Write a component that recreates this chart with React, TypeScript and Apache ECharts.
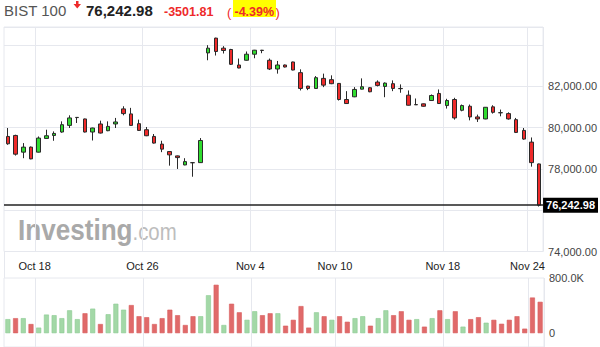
import React, { useEffect, useRef } from 'react';
import * as echarts from 'echarts';

const opens = [
  79576, 79624, 78815, 79059, 78815, 79478, 79624, 79790, 80112, 80500,
  80424, 79790, 80180, 79854, 80180, 80912, 80668, 80195, 79902, 79576,
  79205, 78844, 78634, 78195, 78307, 78307, 83624, 84341, 83854, 83790,
  83039, 83268, 83561, 83756, 83268, 82844, 83039, 83185, 82668, 82015,
  81902, 82390, 82327, 82146, 81366, 81498, 81868, 81937, 82210, 82000,
  82132, 81902, 81576, 81120, 81156, 81317, 81659, 81073, 81366, 80844,
  81039, 80522, 80424, 81010, 80730, 80683, 80390, 79868, 79302, 78244,
];
const closes = [
  79220, 78717, 79059, 78488, 79498, 79610, 79722, 80146, 80473, 80490,
  79790, 79985, 79741, 80063, 80278, 80683, 80112, 79868, 79610, 79254,
  78961, 78683, 78551, 78356, 78300, 79380, 83854, 83693, 83741, 83073,
  82893, 83561, 83756, 83740, 82844, 83039, 82941, 82795, 81902, 81902,
  82424, 82063, 82132, 81366, 81171, 81854, 81985, 81741, 82049, 82161,
  81902, 81890, 81088, 81110, 81039, 81561, 81171, 81317, 80473, 81073,
  80522, 80424, 80990, 80746, 80720, 80424, 79771, 79449, 78307, 76242.98,
];
const lows = [
  79171, 78649, 78522, 78470, 78800, 79463, 79366, 79756, 79985, 80229,
  79770, 79380, 79720, 79830, 79985, 80600, 80100, 79840, 79590, 79230,
  78815, 78161, 78000, 78180, 77624, 78290, 83268, 83498, 83595, 83039,
  82880, 83250, 83366, 83610, 82795, 82620, 82920, 82780, 81805, 81820,
  81890, 81966, 82110, 81317, 81150, 81480, 81855, 81720, 82000, 81478,
  81771, 81693, 81073, 81100, 81020, 81300, 81150, 80927, 80390, 80795,
  80356, 80278, 80410, 80683, 80551, 80390, 79741, 79415, 78112, 76180,
];
const highs = [
  79985, 79660, 79254, 79088, 79576, 79902, 79820, 80307, 80600, 80510,
  80440, 80000, 80341, 80307, 80473, 81039, 80961, 80390, 80034, 79693,
  79366, 78860, 78650, 78522, 78330, 79498, 84000, 84360, 83951, 83820,
  83351, 83693, 83770, 83770, 83351, 83234, 83060, 83200, 82829, 82030,
  82502, 82620, 82537, 82160, 81771, 81966, 82390, 81960, 82293, 82195,
  82293, 82098, 81805, 81415, 81170, 81610, 81854, 81400, 81449, 81122,
  81122, 80634, 81000, 81088, 80878, 80746, 80473, 79985, 79527, 78260,
];
const volumes = [
  204000, 218000, 218000, 133000, 81000, 270000, 261000, 218000, 332000, 204000,
  289000, 356000, 133000, 275000, 427000, 341000, 408000, 246000, 232000, 133000,
  218000, 341000, 261000, 119000, 246000, 246000, 550000, 702000, 119000, 427000,
  303000, 194000, 318000, 261000, 289000, 289000, 109000, 194000, 393000, 81000,
  303000, 246000, 194000, 246000, 166000, 218000, 246000, 109000, 218000, 332000,
  261000, 318000, 194000, 204000, 95000, 218000, 332000, 204000, 318000, 95000,
  204000, 232000, 152000, 194000, 137000, 194000, 246000, 66000, 517000, 455000,
];
const volumeUp = [
  1, 0, 1, 0, 1, 1, 1, 1, 1, 1,
  0, 1, 0, 1, 1, 1, 0, 0, 0, 0,
  0, 0, 0, 0, 0, 1, 1, 0, 1, 0,
  0, 1, 1, 0, 0, 1, 0, 0, 0, 0,
  1, 0, 1, 0, 0, 1, 1, 0, 1, 1,
  0, 0, 0, 1, 0, 1, 0, 1, 0, 1,
  0, 0, 1, 0, 0, 0, 0, 0, 0, 0,
];
const tickIndex = [4, 18, 32, 43, 57, 68];
const tickLabels = ['Oct 18', 'Oct 26', 'Nov 4', 'Nov 10', 'Nov 18', 'Nov 24'];
const priceTickLabels = [82000, 80000, 78000, 74000];
const lastPrice = 76242.98;
const headerName = 'BIST 100';
const headerPrice = '76,242.98';
const headerChange = '-3501.81';
const headerPct = '-4.39%';

const FONT = 'Arial, "Liberation Sans", sans-serif';
const GRID_COLOR = '#e6e8ee';
const RED = '#ee2a2a';

function fmtPrice(v: number) {
  return v.toLocaleString('en-US', { minimumFractionDigits: 2, maximumFractionDigits: 2 });
}

export default function App() {
  const ref = useRef<HTMLDivElement>(null);
  useEffect(() => {
    if (!ref.current) return;
    const chart = echarts.init(ref.current, undefined, { renderer: 'svg' });
    const categories = opens.map((_, i) => String(i));
    const candles = opens.map((o, i) => [o, closes[i], lows[i], highs[i]]);
    const labelAt = (idx: number) => tickIndex.indexOf(idx);
    const showTick = (idx: number) => tickIndex.indexOf(idx) >= 0;

    chart.setOption({
      animation: false,
      backgroundColor: '#fff',
      textStyle: { fontFamily: FONT },
      grid: [
        { left: 4, right: 56, top: 27, height: 224.5, show: true, borderColor: GRID_COLOR, borderWidth: 1 },
        { left: 4, right: 56, top: 278, height: 69, show: true, borderColor: GRID_COLOR, borderWidth: 1 },
      ],
      xAxis: [
        {
          type: 'category', gridIndex: 0, data: categories, boundaryGap: true,
          axisLine: { show: false }, axisTick: { show: false },
          axisLabel: {
            interval: (idx: number) => showTick(idx),
            formatter: (_v: string, idx: number) => { const k = labelAt(idx); return k >= 0 ? tickLabels[k] : ''; },
            color: '#222', fontSize: 11, fontFamily: FONT, margin: 9, padding: [0, 8, 0, 0],
          },
          splitLine: { show: true, interval: (idx: number) => showTick(idx), lineStyle: { color: GRID_COLOR, width: 1 } },
        },
        {
          type: 'category', gridIndex: 1, data: categories, boundaryGap: true,
          axisLine: { show: false }, axisTick: { show: false }, axisLabel: { show: false },
          splitLine: { show: true, interval: (idx: number) => showTick(idx), lineStyle: { color: GRID_COLOR, width: 1 } },
        },
      ],
      yAxis: [
        {
          type: 'value', gridIndex: 0, position: 'right', min: 74000, max: 84880, interval: 2000,
          axisLine: { show: false }, axisTick: { show: false },
          splitLine: { show: true, lineStyle: { color: GRID_COLOR, width: 1 } },
          axisLabel: {
            formatter: (v: number) => (priceTickLabels.indexOf(v) >= 0 ? fmtPrice(v) : ''),
            color: '#444', fontSize: 11, fontFamily: FONT, margin: 5,
          },
        },
        {
          type: 'value', gridIndex: 1, position: 'right', min: -200000, max: 800000, interval: 200000,
          axisLine: { show: false }, axisTick: { show: false }, splitLine: { show: false },
          axisLabel: {
            formatter: (v: number) => (v === 800000 ? '800.0K' : v === 0 ? '0' : ''),
            color: '#444', fontSize: 11, fontFamily: FONT, margin: 5,
          },
        },
      ],
      series: [
        {
          type: 'candlestick', xAxisIndex: 0, yAxisIndex: 0, data: candles, barWidth: 4,
          itemStyle: { color: '#2fdc2f', color0: RED, borderColor: '#2a2a2a', borderColor0: '#2a2a2a', borderWidth: 1 },
          markLine: {
            silent: true, symbol: 'none', animation: false,
            data: [{ yAxis: lastPrice }],
            lineStyle: { color: '#222', width: 1.5, type: 'solid' },
            label: {
              show: true, position: 'end', formatter: fmtPrice(lastPrice), distance: 0,
              color: '#fff', backgroundColor: '#000', fontWeight: 'bold', fontSize: 11, fontFamily: FONT,
              padding: [2, 3, 2, 3],
            },
          },
        },
        {
          type: 'bar', xAxisIndex: 1, yAxisIndex: 1, barWidth: 5,
          data: volumes.map((v, i) => ({
            value: v,
            itemStyle: volumeUp[i]
              ? { color: '#a3d8a7', borderColor: '#8ccb92', borderWidth: 0.6 }
              : { color: '#e06a6a', borderColor: '#d85d5d', borderWidth: 0.6 },
          })),
        },
      ],
      graphic: [
        { type: 'line', shape: { x1: 4.5, y1: 251, x2: 4.5, y2: 278 }, style: { stroke: GRID_COLOR, lineWidth: 1 } },
        { type: 'text', x: 4, y: 10.8, style: { text: headerName, font: `15px ${FONT}`, fill: '#555', textVerticalAlign: 'middle' } },
        { type: 'polygon', shape: { points: [[76, 1], [78.5, 1], [78.5, 4], [81, 4], [77.25, 8.5], [73.5, 4], [76, 4]] }, style: { fill: RED } },
        { type: 'text', x: 86, y: 10.8, style: { text: headerPrice, font: `bold 15px ${FONT}`, fill: '#222', textVerticalAlign: 'middle' } },
        { type: 'text', x: 164, y: 12.4, style: { text: headerChange, font: `bold 12.5px ${FONT}`, fill: RED, textVerticalAlign: 'middle' } },
        { type: 'rect', shape: { x: 233, y: 0, width: 43, height: 17 }, style: { fill: '#ffff00' } },
        { type: 'text', x: 227, y: 12, style: { text: '(', font: `13px ${FONT}`, fill: RED, textVerticalAlign: 'middle' } },
        { type: 'text', x: 234.5, y: 12.4, style: { text: headerPct, font: `bold 12.5px ${FONT}`, fill: RED, textVerticalAlign: 'middle' } },
        { type: 'text', x: 275.5, y: 12, style: { text: ')', font: `13px ${FONT}`, fill: RED, textVerticalAlign: 'middle' } },
        { type: 'text', x: 18, y: 229.6, scaleX: 0.87, style: { text: 'Investing', font: `bold 30px ${FONT}`, fill: '#a9a9a9', textVerticalAlign: 'middle' } },
        { type: 'text', x: 132.5, y: 231.7, scaleX: 0.85, style: { text: '.com', font: `24px ${FONT}`, fill: '#bdbdbd', textVerticalAlign: 'middle' } },
      ],
    });
    return () => chart.dispose();
  }, []);
  return <div ref={ref} style={{ position: 'fixed', left: 0, top: 0, width: 600, height: 347 }} />;
}
